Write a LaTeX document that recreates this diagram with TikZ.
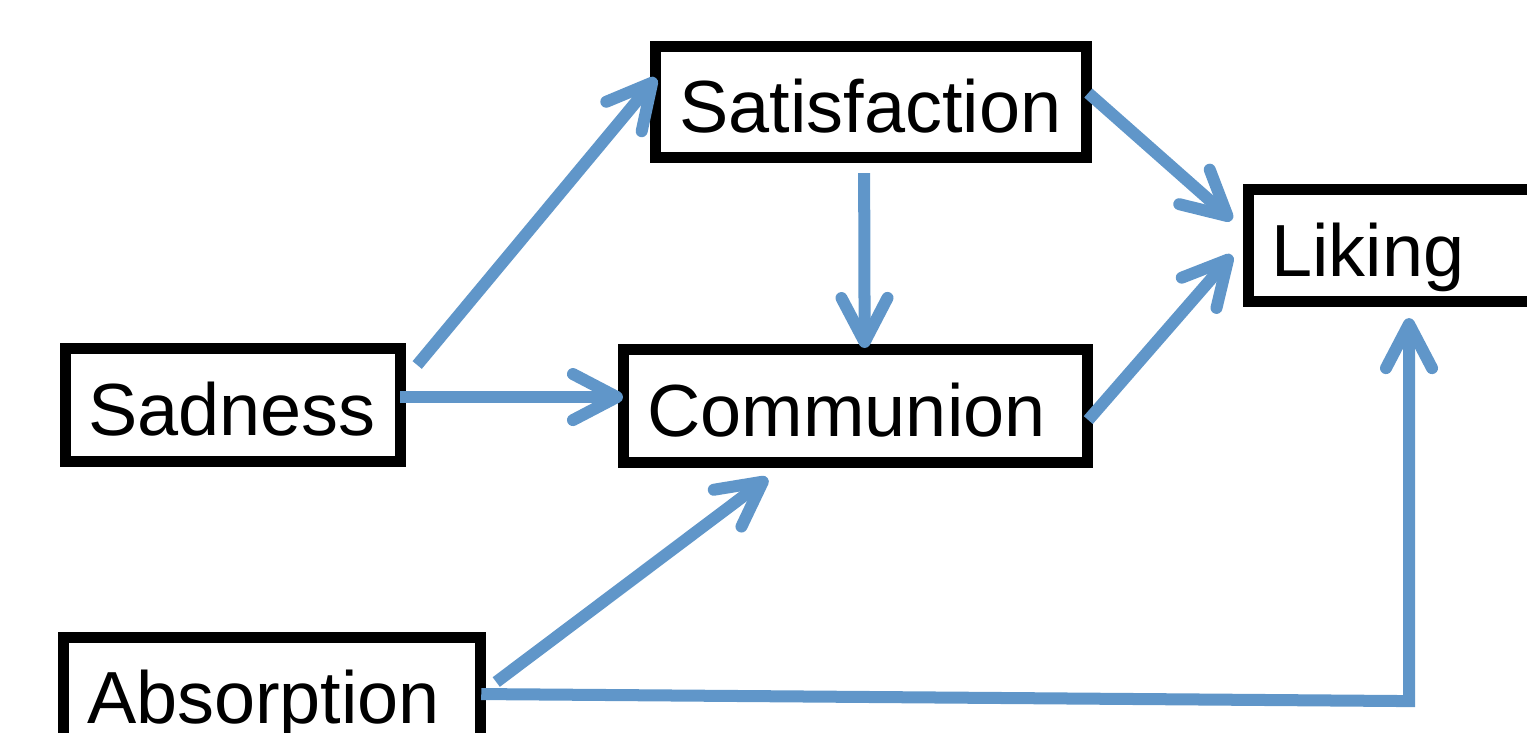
\documentclass[tikz,border=0pt]{standalone}
\usepackage{fontspec}
\setmainfont{Liberation Sans}
\usetikzlibrary{arrows.meta,calc}
\definecolor{arrowblue}{RGB}{96,150,201}
\begin{document}
\begin{tikzpicture}[x=0.01cm,y=-0.01cm,
  box/.style={draw=black, fill=white, line width=0.11cm, anchor=north west, inner ysep=0pt, inner xsep=0.24cm,
    align=left, text height=17.4pt, text depth=0pt, font=\fontsize{21}{25}\selectfont},
  arr/.style={draw=arrowblue, line width=0.12cm, -{Straight Barb[length=0.44cm,width=0.46cm,round]}}]
\useasboundingbox (0,0) rectangle (1527,732);
\clip (0,0) rectangle (1527,732);
\node[box, text width=3.83cm, minimum height=1.11cm] (sat) at (650,41) {Satisfaction};
\node[box, text width=2.5cm, inner xsep=0.23cm, minimum height=1.12cm] (lik) at (1243,184) {Liking};
\node[box, text width=2.9cm, inner xsep=0.225cm, minimum height=1.13cm] (sad) at (60,343) {Sadness};
\node[box, text width=4.16cm, minimum height=1.13cm] (com) at (618,344) {Communion};
\node[box, text width=3.70cm, inner xsep=0.235cm, minimum height=1.11cm] (abs) at (58,632) {Absorption};
\coordinate (corner) at ($(lik.south west)+(166,394)$);
\draw[arr] ($(sad.north east)+(11,22)$) -- ($(sat.north west)+(6,37)$);
\draw[arr] ($(sad.east)+(-6,-8)$) -- ($(com.west)+(5,-9)$);
\draw[arr] ($(sat.south)+(-7,10)$) -- ($(com.north)+(9,4)$);
\draw[arr] ($(sat.east)+(-4,-9)$) -- ($(lik.west)+(-11,-25.5)$);
\draw[arr] ($(com.east)+(-5,14)$) -- ($(lik.west)+(-11,9.5)$);
\draw[arr] ($(abs.north east)+(10,50)$) -- ($(com.south)+(-88,10)$);
\draw[arr] ($(abs.east)+(-5,1)$) -- (corner) -- ($(lik.south west)+(166,11)$);
\end{tikzpicture}
\end{document}
